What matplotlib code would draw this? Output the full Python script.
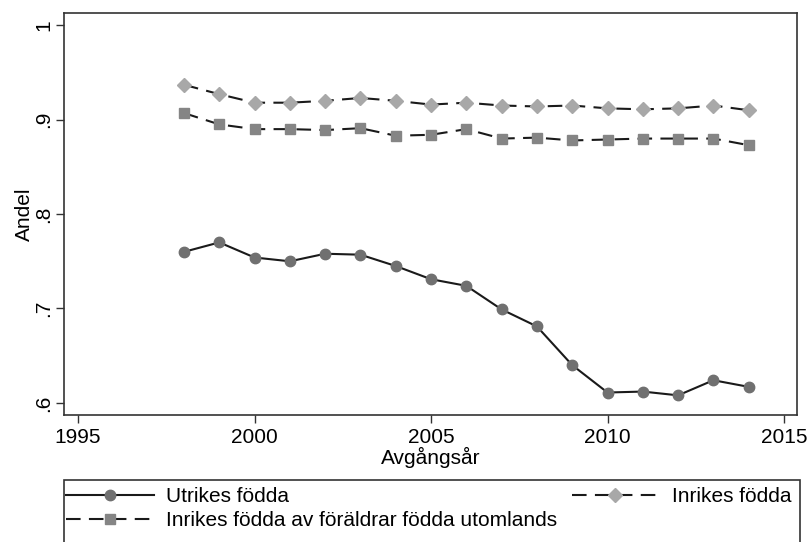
import matplotlib
matplotlib.use("Agg")
import matplotlib.pyplot as plt
from matplotlib.ticker import FuncFormatter
from matplotlib.patches import Rectangle

plt.rcParams['font.family'] = ['Liberation Sans', 'DejaVu Sans']

years = list(range(1998, 2015))
utrikes = [0.760, 0.770, 0.754, 0.750, 0.758, 0.757, 0.745, 0.731, 0.724,
           0.699, 0.681, 0.640, 0.611, 0.612, 0.608, 0.624, 0.617]
inrikes = [0.937, 0.927, 0.918, 0.918, 0.920, 0.923, 0.920, 0.916, 0.918,
           0.915, 0.914, 0.915, 0.912, 0.911, 0.912, 0.915, 0.910]
inrikes_utl = [0.907, 0.895, 0.890, 0.890, 0.889, 0.891, 0.883, 0.884, 0.890,
               0.880, 0.881, 0.878, 0.879, 0.880, 0.880, 0.880, 0.873]

labels = ["Utrikes födda", "Inrikes födda",
          "Inrikes födda av föräldrar födda utomlands"]
xticks = [1995, 2000, 2005, 2010, 2015]
yticks = [0.6, 0.7, 0.8, 0.9, 1.0]

fig = plt.figure(figsize=(8.1, 5.42), dpi=100)
ax = fig.add_axes([0.079, 0.234, 0.905, 0.742])

dash = (0, (7, 4))
l1, = ax.plot(years, utrikes, color='#1a1a1a', lw=1.5, marker='o',
              markersize=7.5, markerfacecolor='#707070', markeredgecolor='#707070',
              label=labels[0])
l2, = ax.plot(years, inrikes, color='#1a1a1a', lw=1.5, ls=dash,
              marker='D', markersize=7.5, markerfacecolor='#a8a8a8',
              markeredgecolor='#a8a8a8', label=labels[1])
l3, = ax.plot(years, inrikes_utl, color='#1a1a1a', lw=1.5, ls=dash,
              marker='s', markersize=7.5, markerfacecolor='#858585',
              markeredgecolor='#858585', label=labels[2])

ax.set_xlim(1994.6, 2015.37)
ax.set_ylim(0.587, 1.013)
ax.set_xticks(xticks)
ax.set_yticks(yticks)

def yfmt(v, pos):
    s = ('%g' % round(v, 2))
    if s.startswith('0.'):
        s = s[1:]
    return s
ax.yaxis.set_major_formatter(FuncFormatter(yfmt))

for lab in ax.get_yticklabels():
    lab.set_rotation(90)
    lab.set_va('center')

ax.tick_params(axis='both', labelsize=15, length=6, width=1, color='#333333',
               direction='out')
ax.tick_params(axis='y', pad=2)
for sp in ax.spines.values():
    sp.set_color('#333333')
    sp.set_linewidth(1.2)

ax.set_xlabel('Avgångsår', fontsize=15, labelpad=0)
ax.set_ylabel('Andel', fontsize=15, labelpad=0)

# legend frame extending past bottom of figure
W, H = 810.0, 542.0
fig.patches.append(Rectangle((64 / W, -0.05), (800 - 64) / W, 0.05 + (H - 480) / H,
                             transform=fig.transFigure, fill=False,
                             edgecolor='#333333', linewidth=1.2))

leg = fig.legend([l1, l3, l2], [labels[0], labels[2], labels[1]],
                 ncol=2, loc='upper left',
                 bbox_to_anchor=(66 / W, (H - 487) / H, (791 - 66) / W, 0.0),
                 mode='expand', fontsize=15, frameon=False,
                 handlelength=4.2, borderpad=0.0,
                 labelspacing=0.25, handletextpad=0.6, borderaxespad=0)

fig.savefig('out.png', dpi=100)
